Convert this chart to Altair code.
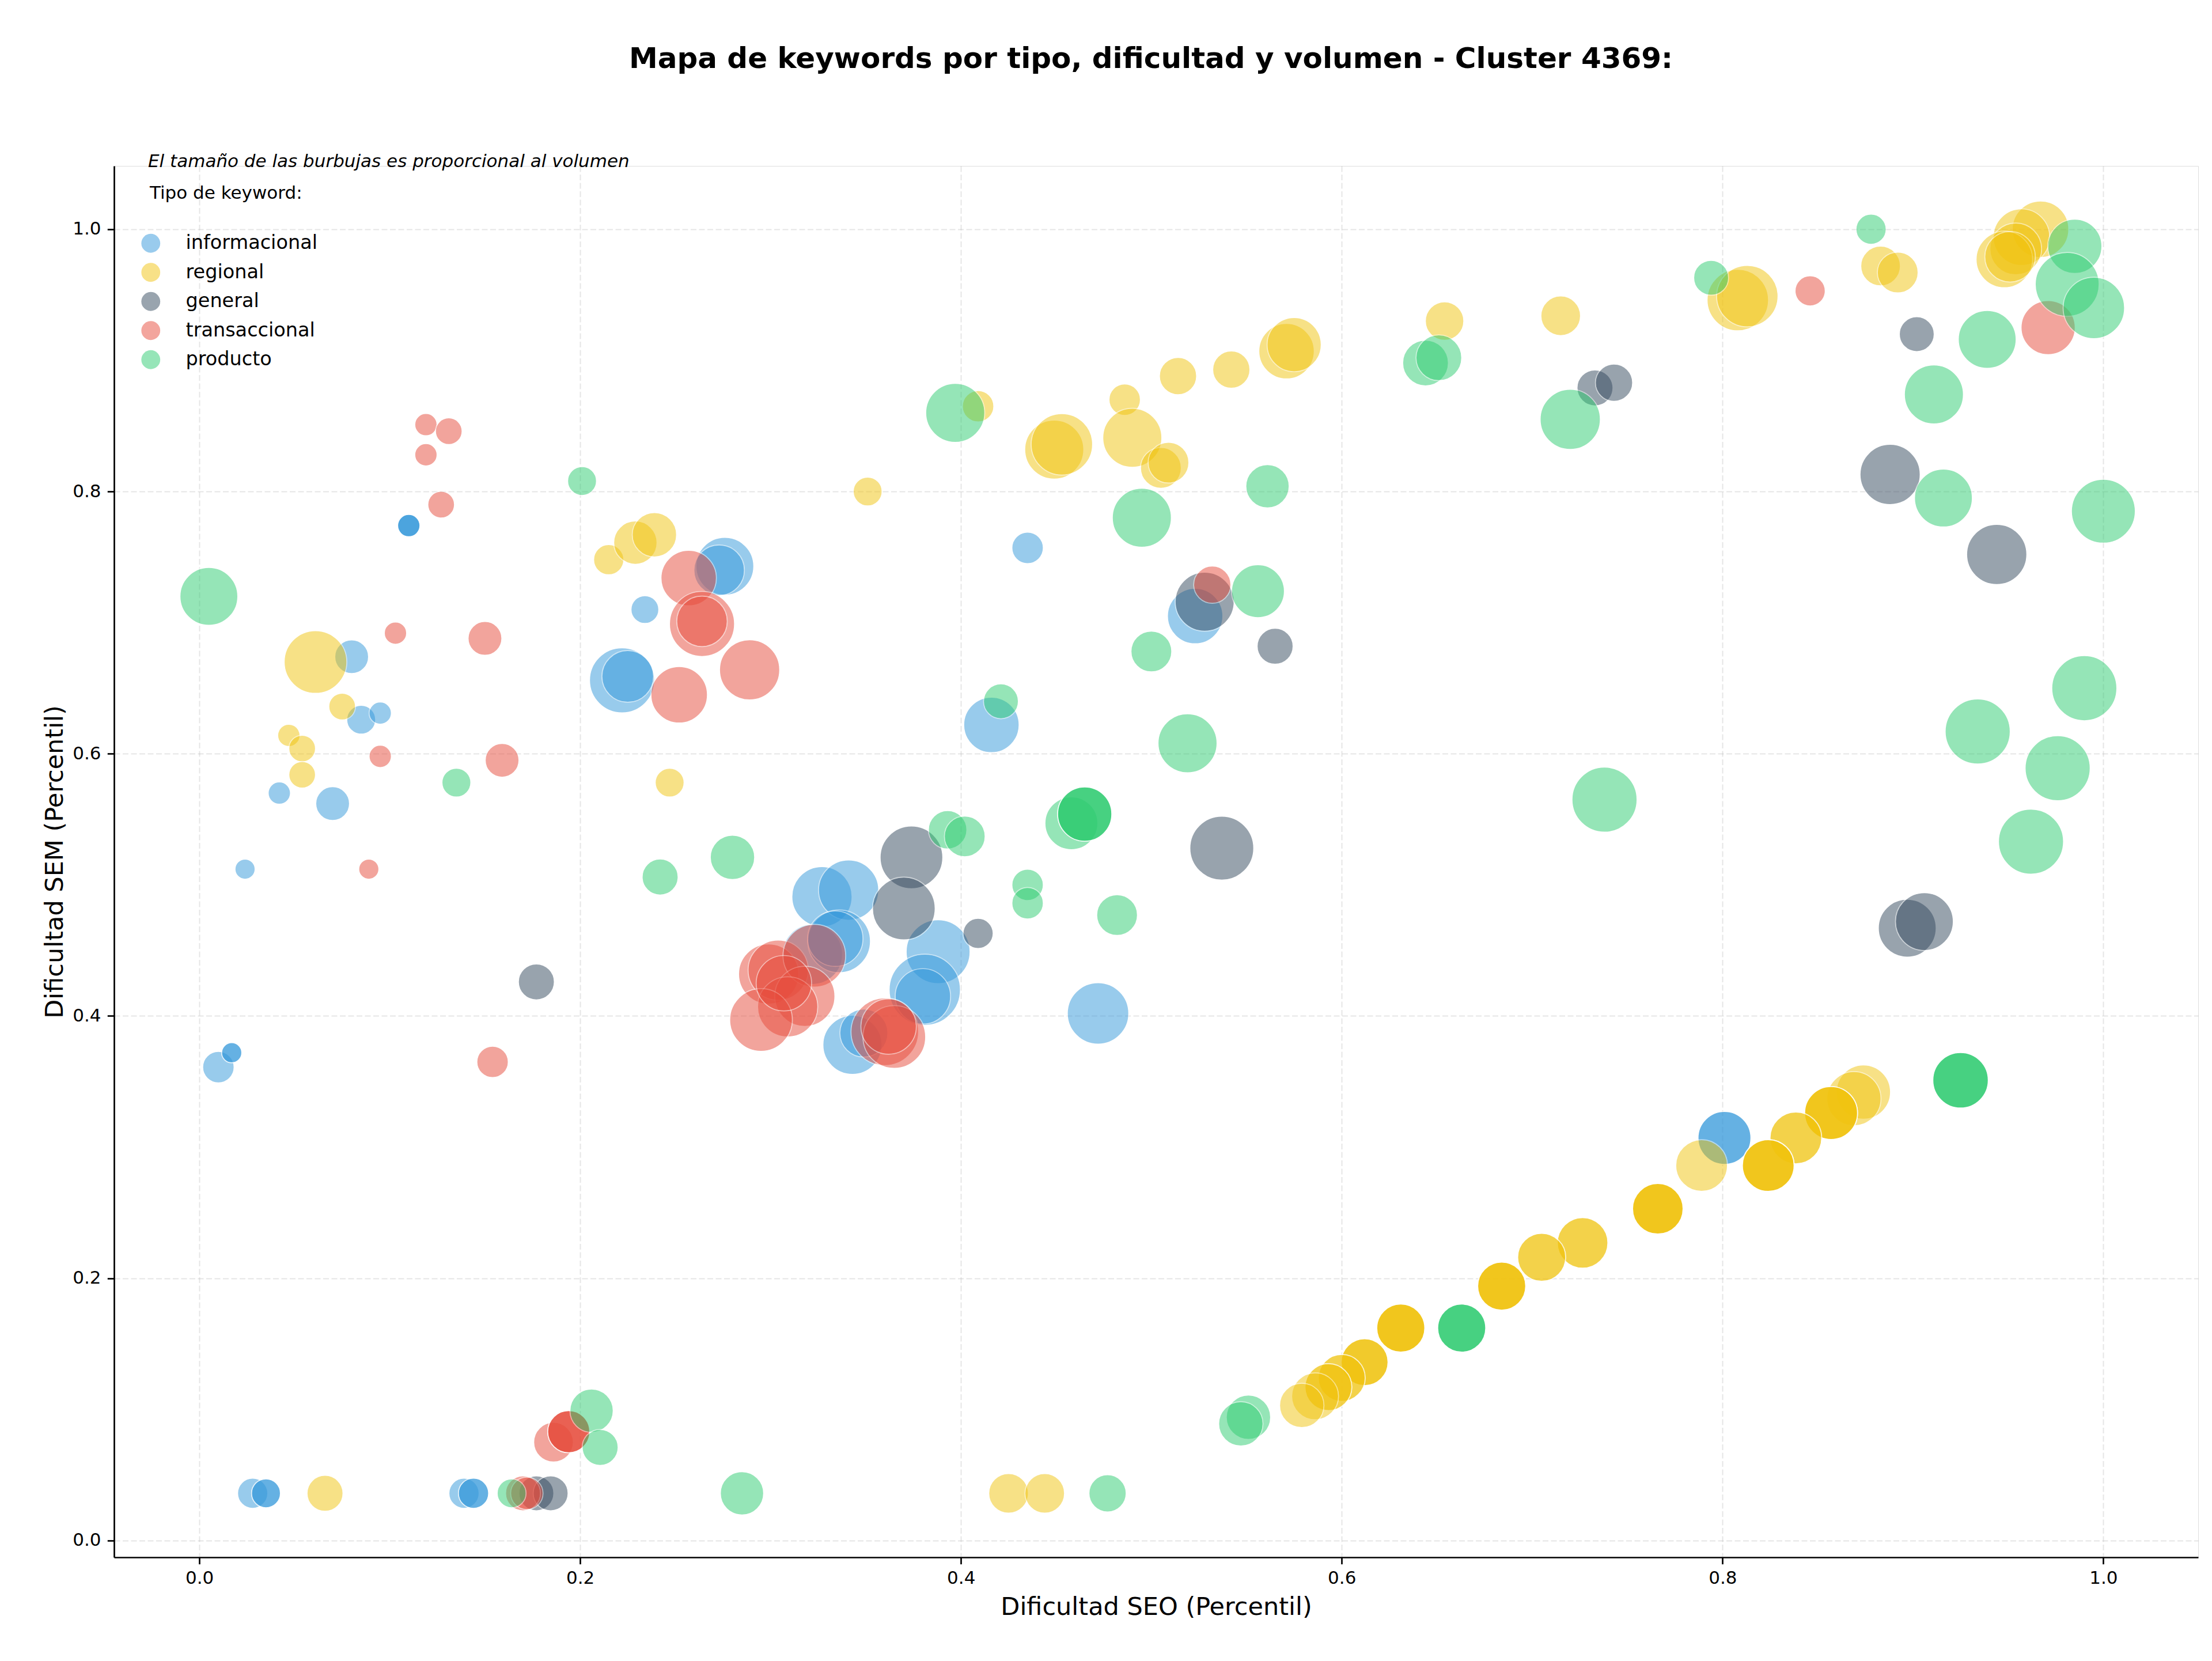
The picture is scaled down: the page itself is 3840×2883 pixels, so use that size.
import altair as alt
import pandas as pd

# ---- keyword data per type: SEO difficulty (x), SEM difficulty (y), volume ----
TYPES = ["informacional", "regional", "general", "transaccional", "producto"]
COLORS = ["#3498db", "#f1c40f", "#34495e", "#e74c3c", "#2ecc71"]

info_seo = [0.080, 0.085, 0.095, 0.042, 0.070, 0.024, 0.110, 0.110, 0.110, 0.010,
            0.017, 0.017, 0.276, 0.273, 0.234, 0.222, 0.225, 0.327, 0.341, 0.322,
            0.336, 0.334, 0.388, 0.381, 0.380, 0.343, 0.349, 0.416, 0.435, 0.523,
            0.472, 0.801, 0.801, 0.028, 0.035, 0.035, 0.139, 0.144, 0.144]
info_sem = [0.674, 0.626, 0.631, 0.570, 0.562, 0.512, 0.774, 0.774, 0.774, 0.361,
            0.372, 0.372, 0.743, 0.740, 0.710, 0.656, 0.659, 0.491, 0.496, 0.447,
            0.457, 0.459, 0.449, 0.420, 0.415, 0.378, 0.387, 0.622, 0.757, 0.705,
            0.402, 0.307, 0.307, 0.036, 0.036, 0.036, 0.036, 0.036, 0.036]
info_vol = [680, 480, 260, 260, 680, 200, 260, 260, 260, 580,
            200, 200, 2120, 1600, 440, 2700, 1680, 2300, 2300, 2300,
            2500, 1940, 2600, 3250, 1940, 2210, 1440, 1940, 580, 1940,
            2400, 1760, 1760, 530, 480, 480, 530, 530, 530]

reg_seo = [0.061, 0.075, 0.047, 0.054, 0.054, 0.215, 0.229, 0.239, 0.247, 0.351,
           0.409, 0.449, 0.453, 0.486, 0.490, 0.505, 0.509, 0.514, 0.542, 0.571,
           0.575, 0.654, 0.715, 0.808, 0.813, 0.883, 0.892, 0.967, 0.957, 0.954,
           0.948, 0.951,
           0.874, 0.869, 0.857, 0.857, 0.857, 0.857, 0.8385, 0.8385, 0.789,
           0.824, 0.824, 0.824, 0.824, 0.766, 0.766, 0.766, 0.766, 0.7265, 0.7265,
           0.705, 0.705, 0.684, 0.684, 0.684, 0.684, 0.631, 0.631, 0.631, 0.631,
           0.612, 0.612, 0.612, 0.600, 0.600, 0.593, 0.593, 0.586, 0.579,
           0.066, 0.425, 0.444]
reg_sem = [0.670, 0.636, 0.614, 0.604, 0.584, 0.748, 0.761, 0.767, 0.578, 0.800,
           0.865, 0.832, 0.836, 0.870, 0.841, 0.818, 0.822, 0.888, 0.893, 0.907,
           0.912, 0.930, 0.934, 0.946, 0.949, 0.972, 0.967, 1.000, 0.994, 0.985,
           0.977, 0.979,
           0.342, 0.337, 0.326, 0.326, 0.326, 0.326, 0.307, 0.307, 0.286,
           0.286, 0.286, 0.286, 0.286, 0.253, 0.253, 0.253, 0.253, 0.227, 0.227,
           0.216, 0.216, 0.194, 0.194, 0.194, 0.194, 0.162, 0.162, 0.162, 0.162,
           0.136, 0.136, 0.136, 0.124, 0.124, 0.117, 0.117, 0.110, 0.103,
           0.036, 0.036, 0.036]
reg_vol = [2500, 400, 260, 400, 400, 530, 1160, 1220, 480, 480,
           580, 2210, 2400, 580, 2210, 1020, 1020, 840, 840, 1940,
           1850, 900, 960, 2400, 2400, 960, 1020, 2020, 2020, 1680,
           2020, 1600,
           1850, 1850, 1760, 1760, 1760, 1760, 1680, 1680, 1680,
           1680, 1680, 1680, 1680, 1600, 1600, 1600, 1600, 1600, 1600,
           1440, 1440, 1440, 1440, 1440, 1440, 1440, 1440, 1440, 1440,
           1370, 1370, 1370, 1370, 1370, 1370, 1370, 1370, 1220,
           780, 960, 960]

gen_seo = [0.177, 0.374, 0.370, 0.409, 0.528, 0.565, 0.537, 0.733, 0.743, 0.902,
           0.888, 0.944, 0.897, 0.906, 0.177, 0.1845]
gen_sem = [0.426, 0.521, 0.482, 0.463, 0.716, 0.682, 0.528, 0.879, 0.883, 0.920,
           0.813, 0.752, 0.467, 0.472, 0.036, 0.036]
gen_vol = [780, 2500, 2500, 530, 2210, 780, 2600, 780, 840, 730,
           2300, 2300, 2120, 2120, 730, 730]

tra_seo = [0.119, 0.131, 0.119, 0.127, 0.150, 0.103, 0.095, 0.089, 0.159, 0.154,
           0.257, 0.264, 0.264, 0.252, 0.289, 0.299, 0.304, 0.323, 0.318, 0.309,
           0.295, 0.307, 0.360, 0.365, 0.362, 0.532, 0.846, 0.971, 0.170, 0.172,
           0.186, 0.194, 0.194, 0.194]
tra_sem = [0.851, 0.846, 0.828, 0.790, 0.688, 0.692, 0.598, 0.512, 0.595, 0.365,
           0.734, 0.699, 0.701, 0.645, 0.664, 0.432, 0.435, 0.446, 0.415, 0.407,
           0.397, 0.425, 0.388, 0.384, 0.392, 0.729, 0.953, 0.925, 0.036, 0.036,
           0.075, 0.083, 0.083, 0.083]
tra_vol = [260, 400, 260, 400, 680, 260, 260, 200, 680, 580,
           1940, 2700, 1600, 2020, 2300, 2300, 2300, 2500, 2300, 2300,
           2500, 1940, 2920, 2500, 1940, 840, 530, 1850, 730, 620,
           960, 1090, 1090, 1090]

pro_seo = [0.005, 0.201, 0.135, 0.242, 0.280, 0.393, 0.402, 0.435, 0.435, 0.482,
           0.458, 0.465, 0.465, 0.465, 0.519, 0.421, 0.500, 0.556, 0.495, 0.561,
           0.397, 0.644, 0.651, 0.720, 0.794, 0.878, 0.911, 0.939, 0.916, 1.000,
           0.985, 0.981, 0.995, 0.738, 0.990, 0.934, 0.976, 0.962,
           0.925, 0.925, 0.925, 0.663, 0.663, 0.663, 0.551, 0.547,
           0.206, 0.2105, 0.164, 0.285, 0.477]
pro_sem = [0.720, 0.808, 0.578, 0.506, 0.521, 0.542, 0.537, 0.500, 0.486, 0.477,
           0.547, 0.554, 0.554, 0.554, 0.608, 0.640, 0.678, 0.724, 0.780, 0.804,
           0.860, 0.898, 0.902, 0.855, 0.963, 1.000, 0.874, 0.916, 0.795, 0.785,
           0.987, 0.958, 0.940, 0.565, 0.650, 0.617, 0.589, 0.533,
           0.351, 0.351, 0.351, 0.162, 0.162, 0.162, 0.094, 0.089,
           0.099, 0.071, 0.036, 0.036, 0.036]
pro_vol = [2120, 480, 480, 780, 1220, 900, 1020, 580, 580, 1020,
           1760, 1850, 1850, 1850, 2210, 730, 1020, 1760, 2210, 1160,
           2210, 1300, 1300, 2300, 730, 530, 2210, 2120, 2120, 2600,
           1850, 2600, 2400, 2700, 2700, 2700, 2700, 2700,
           1940, 1940, 1940, 1440, 1440, 1440, 1220, 1220,
           1160, 780, 480, 1160, 840]

TITLE = "Mapa de keywords por tipo, dificultad y volumen - Cluster 4369:"
NOTE = "El tamaño de las burbujas es proporcional al volumen"
LEGEND_TITLE = "Tipo de keyword:"
X_TITLE = "Dificultad SEO (Percentil)"
Y_TITLE = "Dificultad SEM (Percentil)"
TICKS = [0.0, 0.2, 0.4, 0.6, 0.8, 1.0]

FONT = "DejaVu Sans"
W, H = 3618, 2415

series = [
    ("informacional", info_seo, info_sem, info_vol),
    ("regional", reg_seo, reg_sem, reg_vol),
    ("general", gen_seo, gen_sem, gen_vol),
    ("transaccional", tra_seo, tra_sem, tra_vol),
    ("producto", pro_seo, pro_sem, pro_vol),
]
frames = [pd.DataFrame({"tipo": name, "seo": xs, "sem": ys, "volumen": vs})
          for name, xs, ys, vs in series]
df = pd.concat(frames, ignore_index=True)
df["orden"] = range(len(df))

axis_common = dict(
    values=TICKS, format=".1f", labelFontSize=31, labelColor="black", labelFont=FONT,
    tickSize=11.7, tickWidth=2.7, tickColor="black",
    domainColor="black", domainWidth=2.7,
    grid=True, gridColor="#b0b0b0", gridOpacity=0.32, gridWidth=2, gridDash=[10, 4.5],
    titleFontSize=43, titleFontWeight="normal", titleColor="black", titleFont=FONT,
    labelFlush=False,
)

points = alt.Chart(df).mark_circle(
    opacity=0.5, stroke="white", strokeWidth=1.7
).encode(
    x=alt.X("seo:Q", title=X_TITLE,
            scale=alt.Scale(domain=[-0.0448, 1.0498], nice=False, zero=False),
            axis=alt.Axis(labelPadding=9.3, titleX=W / 2, titleY=99,
                          titleBaseline="alphabetic", titleAlign="center", **axis_common)),
    y=alt.Y("sem:Q", title=Y_TITLE,
            scale=alt.Scale(domain=[-0.0128, 1.0483], nice=False, zero=False),
            axis=alt.Axis(labelPadding=11.3, titleX=-89.5, titleY=H / 2, titleAngle=270,
                          titleBaseline="alphabetic", titleAlign="center", **axis_common)),
    color=alt.Color("tipo:N", scale=alt.Scale(domain=TYPES, range=COLORS),
                    legend=alt.Legend(orient="none", legendX=47, legendY=117.5, title=None,
                                      labelFontSize=33.5, labelFont=FONT, labelColor="black",
                                      labelLimit=1000,
                                      symbolType="circle", symbolSize=1075,
                                      symbolOpacity=0.5, symbolStrokeWidth=0,
                                      rowPadding=15.5, labelOffset=44, padding=0)),
    size=alt.Size("volumen:Q", scale=alt.Scale(domain=[0, 3250], range=[300, 15309]),
                  legend=None),
    order=alt.Order("orden:Q"),
)

title_text = alt.Chart(pd.DataFrame({"t": [TITLE]})).mark_text(
    align="center", baseline="alphabetic", fontSize=50, fontWeight="bold",
    font=FONT, color="black"
).encode(x=alt.value(1800), y=alt.value(-170), text="t:N")

note_text = alt.Chart(pd.DataFrame({"t": [NOTE]})).mark_text(
    align="left", baseline="alphabetic", fontSize=31, fontStyle="italic",
    font=FONT, color="black"
).encode(x=alt.value(59), y=alt.value(2), text="t:N")

legend_title = alt.Chart(pd.DataFrame({"t": [LEGEND_TITLE]})).mark_text(
    align="left", baseline="alphabetic", fontSize=31, font=FONT, color="black"
).encode(x=alt.value(62), y=alt.value(57), text="t:N")

chart = alt.layer(points, title_text, note_text, legend_title).properties(
    width=W, height=H,
    autosize=alt.AutoSizeParams(type="none"),
    padding={"left": 198, "top": 288, "right": 24, "bottom": 180},
    background="white",
).configure_view(strokeWidth=0).configure(font=FONT)

chart.save("out.html", embed_options={"renderer": "svg", "actions": False})
